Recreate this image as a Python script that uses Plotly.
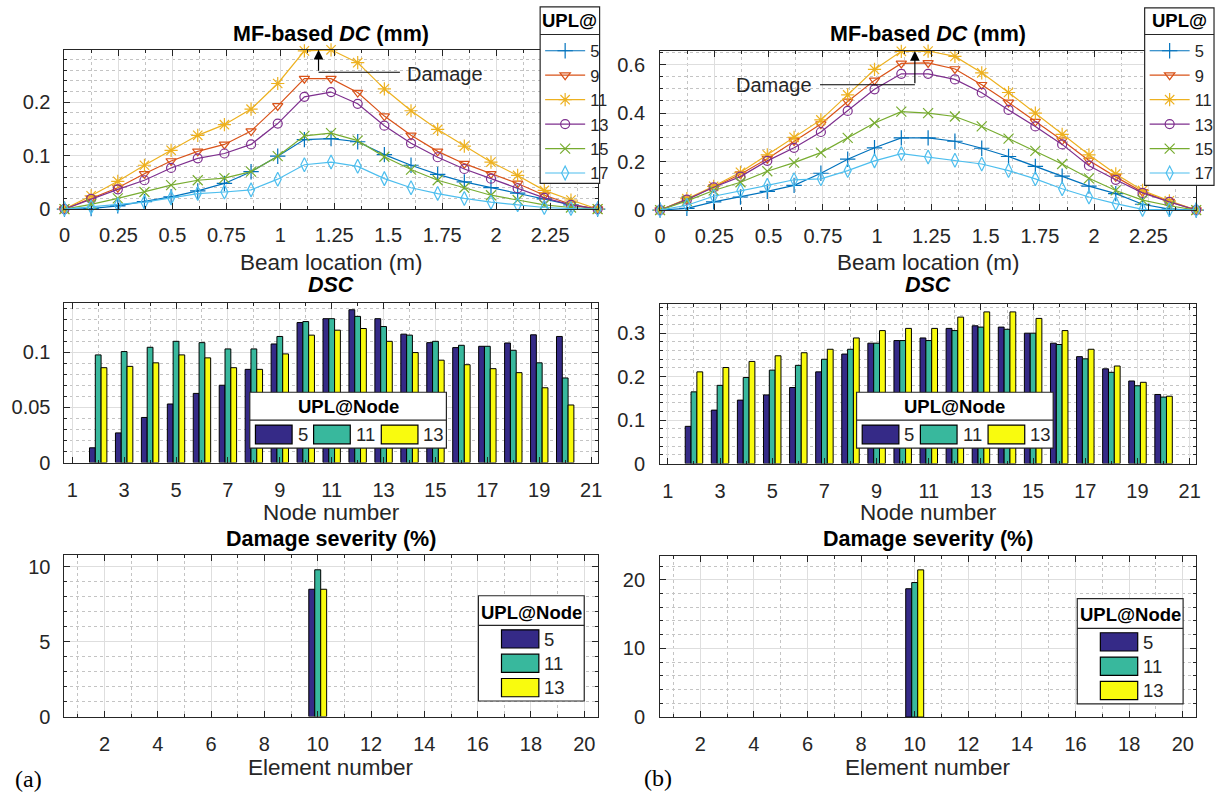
import plotly.graph_objects as go

W, H = 1221, 805
FONT = "Liberation Sans, Arial, Helvetica, sans-serif"
AX = "#262626"
GRID = "#dedede"
MINOR_GRID = "#c4c4c4"

# ---------------- data ----------------
# node coordinates along the beam (m)
beam_x = [0.0, 0.1235, 0.247, 0.3705, 0.494, 0.6175, 0.741, 0.8645, 0.988, 1.1115,
          1.235, 1.3585, 1.482, 1.6055, 1.729, 1.8525, 1.976, 2.0995, 2.223, 2.3465, 2.47]

upl_line_nodes = ["5", "9", "11", "13", "15", "17"]

# (a) MF-based damage curvature DC (mm) for each unit-load node
dc_a_5 = [0, 0.001, 0.006, 0.014, 0.023, 0.034, 0.048, 0.070, 0.099, 0.130, 0.132,
          0.126, 0.102, 0.082, 0.065, 0.051, 0.040, 0.030, 0.019, 0.008, 0]
dc_a_9 = [0, 0.020, 0.040, 0.066, 0.090, 0.108, 0.121, 0.146, 0.193, 0.244, 0.244,
          0.218, 0.174, 0.138, 0.108, 0.085, 0.066, 0.048, 0.026, 0.009, 0]
dc_a_11 = [0, 0.025, 0.052, 0.082, 0.110, 0.138, 0.158, 0.187, 0.235, 0.296, 0.298,
           0.274, 0.225, 0.184, 0.149, 0.118, 0.088, 0.063, 0.035, 0.017, 0]
dc_a_13 = [0, 0.019, 0.037, 0.054, 0.077, 0.095, 0.104, 0.121, 0.160, 0.210, 0.219,
           0.197, 0.156, 0.123, 0.097, 0.075, 0.057, 0.039, 0.021, 0.008, 0]
dc_a_15 = [0, 0.009, 0.020, 0.032, 0.045, 0.054, 0.058, 0.070, 0.099, 0.137, 0.142,
           0.128, 0.098, 0.074, 0.054, 0.040, 0.026, 0.017, 0.008, 0.003, 0]
dc_a_17 = [0, 0.004, 0.008, 0.013, 0.021, 0.029, 0.032, 0.036, 0.056, 0.083, 0.088,
           0.080, 0.057, 0.040, 0.029, 0.020, 0.013, 0.008, 0.003, 0.001, 0]

# (b) MF-based damage curvature DC (mm)
dc_b_5 = [0, 0.007, 0.034, 0.054, 0.077, 0.102, 0.152, 0.210, 0.257, 0.298, 0.298,
          0.284, 0.255, 0.221, 0.180, 0.140, 0.099, 0.068, 0.024, 0.004, 0]
dc_b_9 = [0, 0.044, 0.095, 0.148, 0.212, 0.285, 0.355, 0.448, 0.535, 0.605, 0.607,
          0.582, 0.517, 0.444, 0.365, 0.288, 0.205, 0.137, 0.075, 0.035, 0]
dc_b_11 = [0, 0.047, 0.098, 0.156, 0.228, 0.300, 0.372, 0.475, 0.580, 0.655, 0.656,
           0.634, 0.566, 0.485, 0.400, 0.312, 0.228, 0.149, 0.081, 0.038, 0]
dc_b_13 = [0, 0.043, 0.094, 0.138, 0.203, 0.257, 0.322, 0.409, 0.498, 0.562, 0.562,
           0.539, 0.484, 0.413, 0.345, 0.271, 0.183, 0.125, 0.071, 0.034, 0]
dc_b_15 = [0, 0.038, 0.081, 0.115, 0.160, 0.196, 0.237, 0.298, 0.359, 0.406, 0.400,
           0.386, 0.345, 0.295, 0.244, 0.190, 0.131, 0.081, 0.041, 0.018, 0]
dc_b_17 = [0, 0.020, 0.057, 0.081, 0.102, 0.125, 0.129, 0.163, 0.203, 0.233, 0.219,
           0.206, 0.190, 0.163, 0.129, 0.088, 0.054, 0.027, 0.003, 0.001, 0]

# DSC per node
node_numbers = [1, 2, 3, 4, 5, 6, 7, 8, 9, 10, 11, 12, 13, 14, 15, 16, 17, 18, 19, 20, 21]
upl_bar_nodes = ["5", "11", "13"]
dsc_a_5 = [0, 0.0134, 0.0269, 0.0409, 0.0531, 0.0627, 0.0701, 0.0845, 0.1075, 0.1269, 0.1304,
           0.1385, 0.1304, 0.1164, 0.1087, 0.1042, 0.1054, 0.1084, 0.1158, 0.1143, 0]
dsc_a_11 = [0, 0.0976, 0.1006, 0.1045, 0.1099, 0.1087, 0.1030, 0.1030, 0.1143, 0.1278, 0.1304,
            0.1325, 0.1233, 0.1155, 0.1099, 0.1063, 0.1054, 0.1018, 0.0904, 0.0767, 0]
dsc_a_13 = [0, 0.0860, 0.0872, 0.0904, 0.0976, 0.0949, 0.0860, 0.0845, 0.0985, 0.1155, 0.1200,
            0.1215, 0.1099, 0.0997, 0.0928, 0.0887, 0.0851, 0.0815, 0.0678, 0.0522, 0]
dsc_b_5 = [0, 0.0857, 0.123, 0.146, 0.158, 0.175, 0.211, 0.252, 0.277, 0.283, 0.289,
           0.311, 0.317, 0.314, 0.300, 0.277, 0.246, 0.218, 0.190, 0.159, 0]
dsc_b_11 = [0, 0.165, 0.180, 0.198, 0.215, 0.226, 0.240, 0.263, 0.277, 0.283, 0.283,
            0.306, 0.314, 0.309, 0.300, 0.274, 0.241, 0.210, 0.179, 0.153, 0]
dsc_b_13 = [0, 0.211, 0.221, 0.235, 0.248, 0.255, 0.263, 0.289, 0.306, 0.311, 0.311,
            0.337, 0.349, 0.349, 0.334, 0.306, 0.263, 0.2245, 0.187, 0.155, 0]

# damage severity (%) per element
element_numbers = [1, 2, 3, 4, 5, 6, 7, 8, 9, 10, 11, 12, 13, 14, 15, 16, 17, 18, 19, 20]
sev_a_5 = [0, 0, 0, 0, 0, 0, 0, 0, 0, 8.5, 0, 0, 0, 0, 0, 0, 0, 0, 0, 0]
sev_a_11 = [0, 0, 0, 0, 0, 0, 0, 0, 0, 9.8, 0, 0, 0, 0, 0, 0, 0, 0, 0, 0]
sev_a_13 = [0, 0, 0, 0, 0, 0, 0, 0, 0, 8.5, 0, 0, 0, 0, 0, 0, 0, 0, 0, 0]
sev_b_5 = [0, 0, 0, 0, 0, 0, 0, 0, 0, 18.7, 0, 0, 0, 0, 0, 0, 0, 0, 0, 0]
sev_b_11 = [0, 0, 0, 0, 0, 0, 0, 0, 0, 19.6, 0, 0, 0, 0, 0, 0, 0, 0, 0, 0]
sev_b_13 = [0, 0, 0, 0, 0, 0, 0, 0, 0, 21.45, 0, 0, 0, 0, 0, 0, 0, 0, 0, 0]

# ---------------- styles ----------------
line_colors = ["#0072BD", "#D95319", "#EDB120", "#7E2F8E", "#77AC30", "#4DBEEE"]
line_symbols = ["cross-thin-open", "triangle-down-open", "asterisk-open",
                "circle-open", "x-thin-open", "diamond-tall-open"]
line_msizes = [11, 9, 11, 9, 10, 10]
bar_colors = ["#352a87", "#38b89d", "#f9fb0e"]


def px(x):
    return x / W


def py(y):
    return 1 - y / H


fig = go.Figure()

# ---------------- line plots ----------------
for series, leg, xa, ya in [
    ([dc_a_5, dc_a_9, dc_a_11, dc_a_13, dc_a_15, dc_a_17], "legend", "x", "y"),
    ([dc_b_5, dc_b_9, dc_b_11, dc_b_13, dc_b_15, dc_b_17], "legend2", "x2", "y2"),
]:
    for vals, name, col, sym, ms in zip(series, upl_line_nodes, line_colors, line_symbols, line_msizes):
        fig.add_trace(go.Scatter(
            x=beam_x, y=vals, name=name, mode="lines+markers",
            line=dict(color=col, width=1.2),
            marker=dict(symbol=sym, size=ms, color=col, line=dict(color=col, width=1.2)),
            cliponaxis=False, legend=leg, xaxis=xa, yaxis=ya,
        ))

# ---------------- bar plots ----------------
# bars of zero height are left out so no stubs sit on the baseline
for series, xs, xa, ya in [
    ([dsc_a_5, dsc_a_11, dsc_a_13], node_numbers, "x3", "y3"),
    ([dsc_b_5, dsc_b_11, dsc_b_13], node_numbers, "x4", "y4"),
    ([sev_a_5, sev_a_11, sev_a_13], element_numbers, "x5", "y5"),
    ([sev_b_5, sev_b_11, sev_b_13], element_numbers, "x6", "y6"),
]:
    for vals, name, col in zip(series, upl_bar_nodes, bar_colors):
        keep = [(x, v) for x, v in zip(xs, vals) if v != 0]
        fig.add_trace(go.Bar(
            x=[k[0] for k in keep], y=[k[1] for k in keep], name=name, showlegend=False,
            marker=dict(color=col, line=dict(color="black", width=1)),
            xaxis=xa, yaxis=ya,
        ))


def axis(domain, rng, dtick, tick0, minor_dtick, anchor, standoff):
    return dict(
        domain=domain, range=rng, tickmode="linear", dtick=dtick, tick0=tick0,
        anchor=anchor, showline=True, linecolor=AX, linewidth=1, mirror="ticks",
        ticks="inside", ticklen=6, tickwidth=1, tickcolor=AX,
        showgrid=True, gridcolor=GRID, gridwidth=1, zeroline=False,
        tickfont=dict(family=FONT, size=20, color=AX), ticklabelstandoff=standoff,
        minor=dict(dtick=minor_dtick, tick0=tick0, ticks="inside", ticklen=3,
                   tickcolor=AX, showgrid=True, gridcolor=MINOR_GRID,
                   griddash="dot", gridwidth=1),
        fixedrange=True,
    )


LX = [px(59), px(597)]
RX = [px(660), px(1201)]

layout_axes = dict(
    xaxis=axis(LX, [0, 2.47], 0.25, 0, 0.125, "y", 8),
    yaxis=axis([py(212), py(50.5)], [0, 0.298], 0.1, 0, 0.02, "x", 9),
    xaxis2=axis(RX, [0, 2.47], 0.25, 0, 0.125, "y2", 8),
    yaxis2=axis([py(213), py(51.5)], [0, 0.657], 0.2, 0, 0.05, "x2", 10),
    xaxis3=axis(LX, [0.7, 21.25], 2, 1, 1, "y3", 9),
    yaxis3=axis([py(469), py(307)], [0, 0.1448], 0.05, 0, 0.01, "x3", 9),
    xaxis4=axis(RX, [0.7, 21.25], 2, 1, 1, "y4", 9),
    yaxis4=axis([py(470), py(308.5)], [0, 0.3665], 0.1, 0, 0.02, "x4", 10),
    xaxis5=axis(LX, [0.5, 20.5], 2, 0, 1, "y5", 9),
    yaxis5=axis([py(726.5), py(562.5)], [0, 10.8], 5, 0, 1, "x5", 9),
    xaxis6=axis(RX, [0.5, 20.5], 2, 0, 1, "y6", 9),
    yaxis6=axis([py(727), py(563.5)], [0, 23.5], 10, 0, 2, "x6", 10),
)

annotations = []
shapes = []


def text(x, y, s, size, color=AX, xanchor="center", family=FONT, xref="paper", yref="paper"):
    annotations.append(dict(
        x=x, y=y, xref=xref, yref=yref, text=s, showarrow=False,
        xanchor=xanchor, yanchor="middle", font=dict(family=family, size=size, color=color),
    ))


# titles and axis labels
for cx in (328, 930.5):
    text(px(cx), py(34), "<b>MF-based <i>DC</i> (mm)</b>", 21.5, color="black")
    text(px(cx), py(266), "Beam location (m)", 22.5)
    text(px(cx), py(289), "<b><i>DSC</i></b>", 21.5, color="black")
    text(px(cx), py(520), "Node number", 22.5)
    text(px(cx), py(546), "<b>Damage severity (%)</b>", 21.5, color="black")
    text(px(cx), py(778), "Element number", 22.5)

text(px(23), py(790), "(a)", 24, color="black", family="Liberation Serif, Times New Roman, serif")
text(px(658), py(789), "(b)", 24, color="black", family="Liberation Serif, Times New Roman, serif")

# damage markers on the DC curves
shapes.append(dict(type="line", xref="x", yref="y", x0=1.177, x1=1.554, y0=0.256, y1=0.256,
                   line=dict(color="black", width=1.2), layer="above"))
annotations.append(dict(x=1.177, y=0.298, ax=1.177, ay=0.256, xref="x", yref="y", axref="x", ayref="y",
                        text="", showarrow=True, arrowhead=2, arrowsize=1.6, arrowwidth=1.2,
                        arrowcolor="black", standoff=0, startstandoff=0))
text(1.577, 0.252, "Damage", 20, xanchor="left", xref="x", yref="y")

shapes.append(dict(type="line", xref="x2", yref="y2", x0=0.737, x1=1.174, y0=0.517, y1=0.517,
                   line=dict(color="black", width=1.2), layer="above"))
annotations.append(dict(x=1.174, y=0.656, ax=1.174, ay=0.517, xref="x2", yref="y2", axref="x2", ayref="y2",
                        text="", showarrow=True, arrowhead=2, arrowsize=1.6, arrowwidth=1.2,
                        arrowcolor="black", standoff=0, startstandoff=0))
text(0.71, 0.515, "Damage", 20, xanchor="right", xref="x2", yref="y2")


def box(x0, y0, x1, y1, fill="white", width=1.2, color=AX):
    shapes.append(dict(type="rect", xref="paper", yref="paper",
                       x0=px(x0), x1=px(x1), y0=py(y1), y1=py(y0),
                       fillcolor=fill, line=dict(color=color, width=width), layer="above"))


def hline(x0, x1, y):
    shapes.append(dict(type="line", xref="paper", yref="paper",
                       x0=px(x0), x1=px(x1), y0=py(y), y1=py(y),
                       line=dict(color=AX, width=1.2), layer="above"))


# boxes behind the line legends
for (bx0, by0, bx1, by1) in [(539, 7, 599, 186), (1149, 8, 1219, 188)]:
    box(bx0, by0, bx1, by1)
    hline(bx0, bx1, 35)
    text(px((bx0 + bx1) / 2), py(21), "<b>UPL@</b>", 18.5, color="black")

# horizontal legends of the DSC plots
for bx0 in (246, 858.3):
    box(bx0, 397.7, bx0 + 198.4, 454.3)
    hline(bx0, bx0 + 198.4, 426)
    text(px(bx0 + 99.2), py(412), "<b>UPL@Node</b>", 18.5, color="black")
    for off, lab, col in zip([5.7, 64.4, 132.7], upl_bar_nodes, bar_colors):
        box(bx0 + off, 431, bx0 + off + 37, 450, fill=col, width=1.2, color="black")
        text(px(bx0 + off + 40.5), py(441), lab, 18.5, xanchor="left")

# vertical legends of the severity plots
for bx0, by0 in ((476.7, 604), (1081, 607)):
    box(bx0, by0, bx0 + 106.8, by0 + 106.7)
    hline(bx0, bx0 + 106.8, by0 + 30)
    text(px(bx0 + 53.4), py(by0 + 16.5), "<b>UPL@Node</b>", 18.5, color="black")
    for k, (lab, col) in enumerate(zip(upl_bar_nodes, bar_colors)):
        yy = by0 + 34.5 + 24.7 * k
        box(bx0 + 23.3, yy, bx0 + 61, yy + 18.5, fill=col, width=1.2, color="black")
        text(px(bx0 + 64.5), py(yy + 9.5), lab, 18.5, xanchor="left")

legend_common = dict(
    bgcolor="rgba(0,0,0,0)", borderwidth=0, font=dict(family=FONT, size=16.5, color=AX),
    xanchor="left", yanchor="top", tracegroupgap=0, itemwidth=40,
    itemclick=False, itemdoubleclick=False,
)

fig.update_layout(
    width=W, height=H, margin=dict(l=0, r=0, t=0, b=0),
    paper_bgcolor="white", plot_bgcolor="white",
    barmode="group", bargap=0.33, bargroupgap=0,
    showlegend=True,
    legend=dict(x=px(539), y=py(34), **legend_common),
    legend2=dict(x=px(1149), y=py(34), **legend_common),
    annotations=annotations, shapes=shapes,
    **layout_axes,
)

fig.write_html("out.html")
